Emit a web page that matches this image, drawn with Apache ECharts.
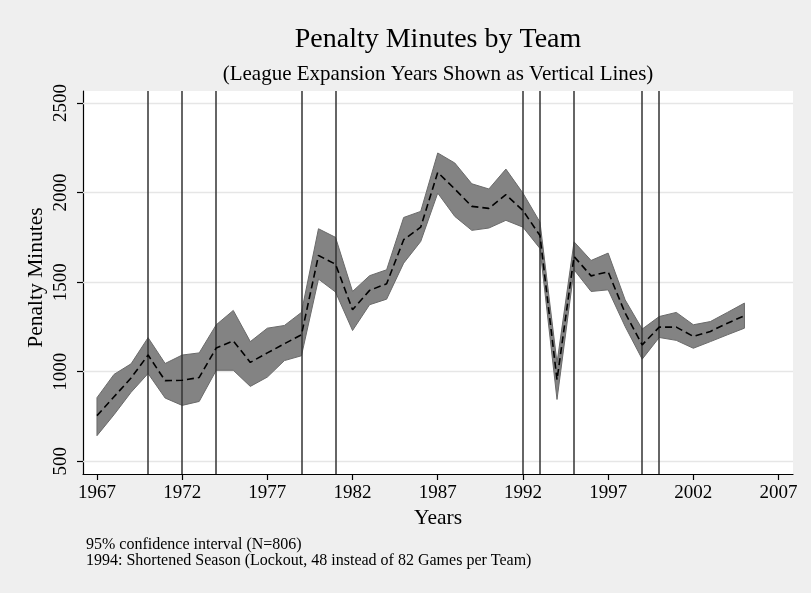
<!DOCTYPE html>
<html>
<head>
<meta charset="utf-8">
<script src="https://cdn.jsdelivr.net/npm/echarts@6/dist/echarts.min.js"></script>
<style>
html,body{margin:0;padding:0;background:#efefef;}
#chart{width:811px;height:593px;}
</style>
</head>
<body>
<div id="chart"></div>
<script>
const years = [1967,1968,1969,1970,1971,1972,1973,1974,1975,1976,1977,1978,1979,1980,1981,1982,1983,1984,1985,1986,1987,1988,1989,1990,1991,1992,1993,1994,1995,1996,1997,1998,1999,2000,2001,2002,2003,2004,2005];
const meanPIM = [755,860,965,1093,950,952,968,1133,1172,1052,1105,1156,1206,1649,1600,1346,1454,1491,1737,1807,2113,2020,1923,1912,1988,1900,1760,955,1643,1535,1558,1327,1150,1249,1249,1197,1225,1271,1312];
const upperCI = [855,985,1044,1190,1046,1093,1105,1262,1342,1168,1243,1258,1331,1798,1750,1448,1536,1569,1861,1895,2221,2165,2049,2020,2131,1997,1835,1050,1725,1621,1662,1401,1238,1308,1331,1262,1280,1331,1383];
const lowerCI = [643,760,885,990,853,812,834,1008,1008,918,970,1062,1089,1517,1445,1230,1374,1405,1606,1727,1997,1867,1789,1802,1845,1807,1688,845,1569,1448,1457,1252,1070,1191,1175,1131,1168,1206,1243];
const expansionYears = [1970,1972,1974,1979,1981,1992,1993,1995,1999,2000];
const xTicks = [1967,1972,1977,1982,1987,1992,1997,2002,2007];
const yTicks = [500,1000,1500,2000,2500];

const FONT = '"Liberation Serif", "Times New Roman", serif';
const chart = echarts.init(document.getElementById('chart'), null, {renderer:'canvas'});

const bandData = years.map((y,i)=>[y, lowerCI[i], upperCI[i]]);

const option = {
  backgroundColor: '#efefef',
  animation: false,
  grid: {left: 83, right: 18, top: 91, bottom: 119, show: true, backgroundColor: '#ffffff', borderWidth: 0},
  xAxis: {
    type: 'value', min: 1966.18, max: 2007.85,
    axisLine: {show: true, onZero: false, lineStyle: {color: '#000', width: 1.2}},
    axisTick: {show: true, length: 6, customValues: xTicks, lineStyle: {color: '#000', width: 1.2}},
    axisLabel: {customValues: xTicks, color: '#000', fontFamily: FONT, fontSize: 19, margin: 10, formatter: v => String(v)},
    splitLine: {show: false}
  },
  yAxis: {
    type: 'value', min: 429, max: 2567,
    axisLine: {show: true, onZero: false, lineStyle: {color: '#000', width: 1.2}},
    axisTick: {show: true, length: 6, customValues: yTicks, lineStyle: {color: '#000', width: 1.2}},
    axisLabel: {customValues: yTicks, rotate: 90, color: '#000', fontFamily: FONT, fontSize: 19, margin: 12, formatter: v => String(v)},
    splitLine: {show: false}
  },
  series: [
    {
      type: 'line', data: [], z: 1, silent: true,
      markLine: {z: 1, silent: true, symbol: ['none','none'], label: {show: false},
        lineStyle: {color: '#e6e6e6', width: 1.3, type: 'solid'},
        data: yTicks.map(v => ({yAxis: v}))}
    },
    {
      type: 'custom', z: 2, silent: true,
      data: bandData,
      encode: {x: 0, y: [1, 2]},
      renderItem: function (params, api) {
        if (params.dataIndex !== 0) return null;
        const pts = [];
        for (let i = 0; i < years.length; i++) pts.push(api.coord([years[i], upperCI[i]]));
        for (let i = years.length - 1; i >= 0; i--) pts.push(api.coord([years[i], lowerCI[i]]));
        return {type: 'polygon', shape: {points: pts}, style: {fill: '#838383', stroke: '#6a6a6a', lineWidth: 1}};
      }
    },
    {
      type: 'line', data: [], z: 3, silent: true,
      markLine: {z: 3, silent: true, symbol: ['none','none'], label: {show: false},
        lineStyle: {color: '#333333', width: 1.5, type: 'solid'},
        data: expansionYears.map(v => ({xAxis: v}))}
    },
    {
      type: 'line', z: 4, silent: true, symbol: 'none',
      data: years.map((y,i)=>[y, meanPIM[i]]),
      lineStyle: {color: '#000', width: 1.6, type: [7,4]}
    }
  ],
  graphic: [
    {type: 'text', x: 438, y: 39.5, style: {text: 'Penalty Minutes by Team', font: '28px ' + FONT, fill: '#000', align: 'center', verticalAlign: 'middle'}},
    {type: 'text', x: 438, y: 74.5, style: {text: '(League Expansion Years Shown as Vertical Lines)', font: '21px ' + FONT, fill: '#000', align: 'center', verticalAlign: 'middle'}},
    {type: 'text', x: 36, y: 277.5, rotation: Math.PI/2, style: {text: 'Penalty Minutes', font: '21.5px ' + FONT, fill: '#000', align: 'center', verticalAlign: 'middle'}},
    {type: 'text', x: 438, y: 518, style: {text: 'Years', font: '21.5px ' + FONT, fill: '#000', align: 'center', verticalAlign: 'middle'}},
    {type: 'text', x: 86, y: 545, style: {text: '95% confidence interval (N=806)', font: '16px ' + FONT, fill: '#000', align: 'left', verticalAlign: 'middle'}},
    {type: 'text', x: 86, y: 561, style: {text: '1994: Shortened Season (Lockout, 48 instead of 82 Games per Team)', font: '16px ' + FONT, fill: '#000', align: 'left', verticalAlign: 'middle'}}
  ]
};
chart.setOption(option);
</script>
</body>
</html>
